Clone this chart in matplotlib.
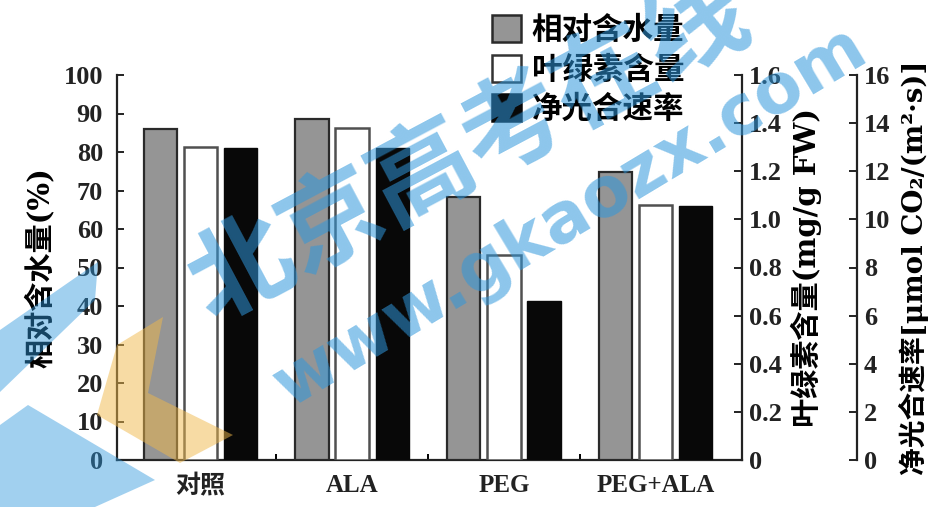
import matplotlib
matplotlib.use("Agg")
import matplotlib.pyplot as plt
import numpy as np
from matplotlib.patches import Patch, Polygon

# ---- data ----
groups = ["对照", "ALA", "PEG", "PEG+ALA"]
water_content = [86, 88.5, 68.3, 74.7]          # 相对含水量 (%)
chlorophyll = [1.30, 1.38, 0.85, 1.06]          # 叶绿素含量 (mg/g FW)
photosynthesis = [12.95, 12.95, 6.6, 10.55]     # 净光合速率 (μmol CO2/(m²·s))

left_ticks = [0, 10, 20, 30, 40, 50, 60, 70, 80, 90, 100]
chl_ticks = [0, 0.2, 0.4, 0.6, 0.8, 1.0, 1.2, 1.4, 1.6]
chl_ticklabels = ["0", "0.2", "0.4", "0.6", "0.8", "1.0", "1.2", "1.4", "1.6"]
pn_ticks = [0, 2, 4, 6, 8, 10, 12, 14, 16]

legend_labels = ["相对含水量", "叶绿素含量", "净光合速率"]

MIXED = ["DejaVu Serif", "Noto Sans CJK SC"]
NUM = ["Liberation Serif", "Noto Sans CJK SC"]

W, H = 941, 507
fig = plt.figure(figsize=(W / 100, H / 100), dpi=100)
fig.patch.set_facecolor("white")

ax = fig.add_axes([117 / W, 1 - 460 / H, (742 - 117) / W, (460 - 75) / H])
ax_chl = ax.twinx()
ax_pn = ax.twinx()

x = np.arange(len(groups))
bw = 0.22
off = 0.265
edge = "#2a2a2a"

ax.bar(x - off, water_content, bw, color="#959595", edgecolor=edge, linewidth=1.6, zorder=3)
ax_chl.bar(x, chlorophyll, bw, color="white", edgecolor="#505050", linewidth=1.8, zorder=3)
ax_pn.bar(x + off, photosynthesis, bw, color="#080808", edgecolor="#080808", linewidth=1.0, zorder=3)

ax.set_xlim(-0.55, 3.57)
ax.set_ylim(0, 100)
ax_chl.set_ylim(0, 1.6)
ax_pn.set_ylim(0, 16)

# spines
for s in ["top", "right"]:
    ax.spines[s].set_visible(False)
for s in ["top", "left", "bottom"]:
    ax_chl.spines[s].set_visible(False)
    ax_pn.spines[s].set_visible(False)
ax_pn.spines["right"].set_position(("axes", (857 - 117) / (742 - 117)))
for a in (ax, ax_chl, ax_pn):
    for s in a.spines.values():
        s.set_linewidth(1.6)
        s.set_color("#222222")

# ticks
ax.set_yticks(left_ticks)
ax.set_yticklabels([str(v) for v in left_ticks], fontfamily=NUM, fontweight="bold", fontsize=19)
ax.tick_params(axis="y", direction="in", length=5, width=1.4, pad=10, colors="#222222")

ax_chl.set_yticks(chl_ticks)
ax_chl.set_yticklabels(chl_ticklabels, fontfamily=NUM, fontweight="bold", fontsize=19)
ax_chl.tick_params(axis="y", direction="in", length=6, width=1.4, pad=5, colors="#222222")

ax_pn.set_yticks(pn_ticks)
ax_pn.set_yticklabels([str(v) for v in pn_ticks], fontfamily=NUM, fontweight="bold", fontsize=19)
ax_pn.tick_params(axis="y", direction="in", length=6, width=1.4, pad=5, colors="#222222")

ax.set_xticks(x)
ax.set_xticklabels(groups, fontfamily=NUM, fontweight="bold", fontsize=18)
ax.tick_params(axis="x", length=0, pad=10, colors="#222222")
ax.set_xticks([0.5, 1.5, 2.5], minor=True)
ax.tick_params(axis="x", which="minor", direction="in", length=4, width=1.4)

# axis titles
ax.set_ylabel("相对含水量(%)", fontfamily=MIXED, fontweight="bold", fontsize=21, labelpad=6)
ax_chl.set_ylabel("叶绿素含量(mg/g FW)", fontfamily=MIXED, fontsize=21, labelpad=6,
                  rotation=90)
ax_pn.set_ylabel("净光合速率[μmol CO₂/(m²·s)]", fontfamily=MIXED, fontsize=20, labelpad=6,
                 rotation=90)
ax_chl.yaxis.label.set_fontweight("bold")
ax_pn.yaxis.label.set_fontweight("bold")

# legend
handles = [
    Patch(facecolor="#959595", edgecolor=edge, linewidth=1.8),
    Patch(facecolor="white", edgecolor="#333333", linewidth=1.8),
    Patch(facecolor="#080808", edgecolor="#080808", linewidth=1.8),
]
fig.legend(handles, legend_labels, loc="upper left", bbox_to_anchor=(492 / W, 1 - 14 / H),
           frameon=False, prop={"family": "Noto Sans CJK SC", "weight": "bold", "size": 22},
           handlelength=0.95, handleheight=1.0, handletextpad=0.35, labelspacing=0.25,
           borderpad=0.0, borderaxespad=0.0)

# site watermark and corner decoration
blue = "#2f97dc"
fig.text(470 / W, 1 - 150 / H, "北京高考在线", fontfamily="Noto Sans CJK SC", fontweight="bold",
         fontsize=74, color=blue, alpha=0.55, rotation=28, ha="center", va="center", zorder=20)
fig.text(570 / W, 1 - 216 / H, "www.gkaozx.com", fontfamily="DejaVu Sans", fontweight="bold",
         fontsize=50, color=blue, alpha=0.55, rotation=31, ha="center", va="center", zorder=20)

def fig_poly(pts, color, alpha):
    p = Polygon([(px / W, 1 - py / H) for px, py in pts], closed=True, transform=fig.transFigure,
                facecolor=color, edgecolor="none", alpha=alpha, zorder=19)
    fig.add_artist(p)

fig_poly([(0, 330), (98, 262), (95, 300), (0, 392)], blue, 0.45)
fig_poly([(0, 425), (28, 405), (155, 480), (95, 507), (0, 507)], blue, 0.45)
fig_poly([(163, 317), (148, 393), (233, 435), (180, 463), (97, 415), (117, 345)], "#f0b84a", 0.5)

fig.savefig("out.png", dpi=100, facecolor="white")
